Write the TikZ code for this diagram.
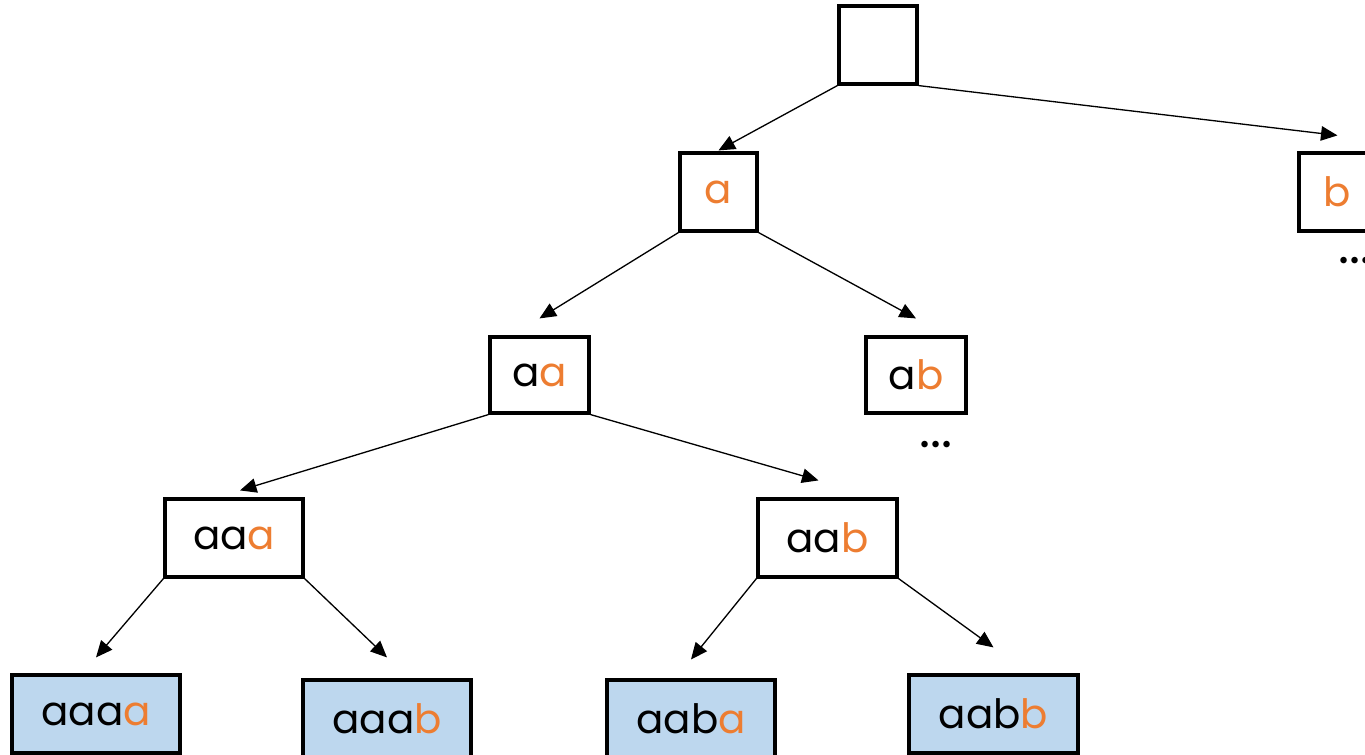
\documentclass[tikz,border=0pt]{standalone}
\usepackage{fontspec}
\setmainfont{Poppins}
\usetikzlibrary{arrows.meta}

\definecolor{letterorange}{HTML}{ED7D31}
\definecolor{leafblue}{HTML}{BDD7EE}

% last letter of a word in orange
\newcommand{\nxt}[1]{\textcolor{letterorange}{#1}}

\begin{document}
\begin{tikzpicture}[
            box/.style={rectangle, draw, line width=1.8pt, minimum height=1.56cm, inner sep=0pt,
                        font=\fontsize{23}{27}\selectfont},
            leaf/.style={box, fill=leafblue, minimum width=3.36cm},
            more/.style={inner sep=0pt, font=\fontsize{30}{34}\selectfont},
            edge/.style={draw, line width=0.75pt, -{Triangle[length=3.3mm, width=2.9mm]}}
            ]
            \useasboundingbox (0,0) rectangle (27.3,-15.1);

            % levels of the tree
            \node[box, minimum width=1.56cm] (root) at (17.56,-0.90) {};
            \node[box, minimum width=1.54cm] (a) at (14.37,-3.84) {\nxt{a}};
            \node[box, minimum width=1.54cm] (b) at (26.75,-3.84) {\nxt{b}};
            \node[box, minimum width=1.98cm, minimum height=1.52cm] (aa) at (10.79,-7.50) {a\nxt{a}};
            \node[box, minimum width=2.00cm, minimum height=1.52cm] (ab) at (18.32,-7.50) {a\nxt{b}};
            \node[box, minimum width=2.76cm] (aaa) at (4.68,-10.76) {aa\nxt{a}};
            \node[box, minimum width=2.78cm] (aab) at (16.55,-10.76) {aa\nxt{b}};
            \node[leaf] (aaaa) at (1.92,-14.28) {aaa\nxt{a}};
            \node[leaf] (aaab) at (7.74,-14.38) {aaa\nxt{b}};
            \node[leaf] (aaba) at (13.82,-14.38) {aab\nxt{a}};
            \node[leaf, minimum width=3.38cm] (aabb) at (19.87,-14.28) {aab\nxt{b}};

            \node[more] (bmore) at (27.10,-5.22) {...};
            \node[more] (abmore) at (18.72,-8.90) {...};

            % arrows to the children
            \draw[edge] (root.south west) -- ([yshift=0.02cm]a.north);
            \draw[edge] (root.south east) -- ([yshift=0.32cm]b.north);
            \draw[edge] (a.south west) -- ([yshift=0.34cm]aa.north);
            \draw[edge] (a.south east) -- ([yshift=0.34cm]ab.north);
            \draw[edge] (aa.south west) -- ([xshift=0.12cm, yshift=0.14cm]aaa.north);
            \draw[edge] (aa.south east) -- ([xshift=-0.18cm, yshift=0.34cm]aab.north);
            \draw[edge] (aaa.south west) -- ([yshift=0.32cm]aaaa.north);
            \draw[edge] (aaa.south east) -- ([yshift=0.42cm]aaab.north);
            \draw[edge] (aab.south west) -- ([yshift=0.38cm]aaba.north);
            \draw[edge] (aab.south east) -- ([yshift=0.52cm]aabb.north);
        \end{tikzpicture}
\end{document}
